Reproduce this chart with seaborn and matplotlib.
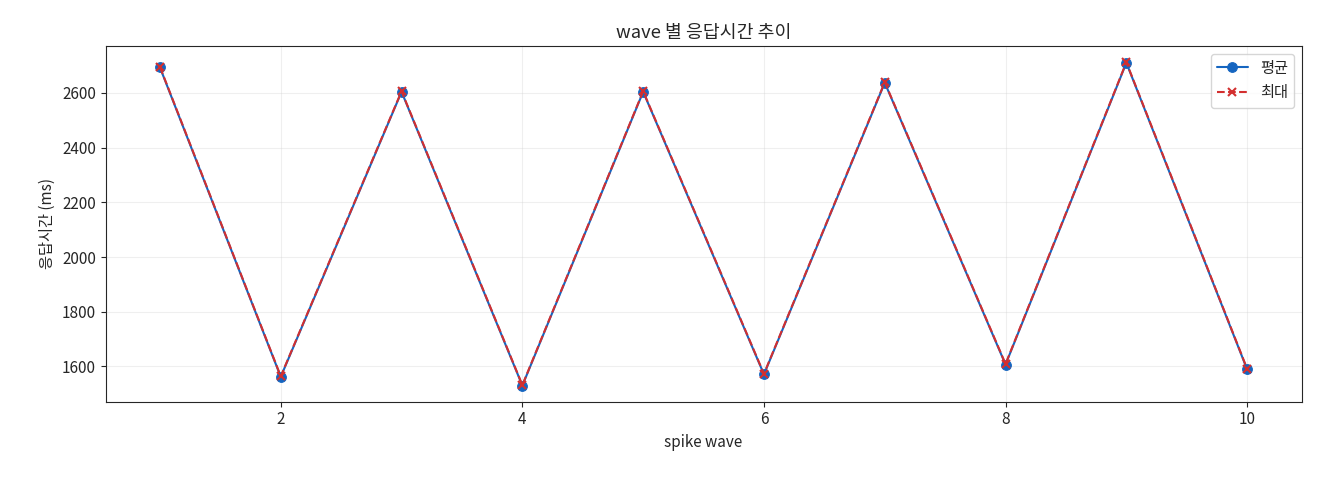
"""Response time per spike wave: mean vs max."""

import matplotlib

matplotlib.use("Agg")
import matplotlib.pyplot as plt
import pandas as pd
import seaborn as sns

waves = [1, 2, 3, 4, 5, 6, 7, 8, 9, 10]
mean_ms = [2693, 1562, 2604, 1530, 2604, 1571, 2637, 1607, 2710, 1589]
max_ms = [2695, 1564, 2606, 1532, 2606, 1573, 2639, 1609, 2712, 1591]

sns.set_style("ticks")
plt.rcParams["font.family"] = ["Noto Sans CJK KR", "DejaVu Sans"]
plt.rcParams["axes.unicode_minus"] = False
plt.rcParams["font.size"] = 11

df = pd.DataFrame({"wave": waves, "mean": mean_ms, "max": max_ms})

fig, ax = plt.subplots(figsize=(13.2, 4.8), dpi=100)
sns.lineplot(data=df, x="wave", y="mean", marker="o", markersize=7,
             markeredgecolor="#1565c0", color="#1565c0", label="평균", ax=ax)
sns.lineplot(data=df, x="wave", y="max", marker="x", markersize=6,
             markeredgewidth=1.5, markeredgecolor="#d32f2f",
             color="#d32f2f", label="최대", ax=ax)
ax.lines[1].set_linestyle("--")

ax.set_title("wave 별 응답시간 추이")
ax.set_xlabel("spike wave")
ax.set_ylabel("응답시간 (ms)")
ax.grid(True, alpha=0.3)
ax.legend(loc="upper right")
fig.subplots_adjust(left=0.08, right=0.986, top=0.904, bottom=0.163)
fig.savefig("out.png", dpi=100)
